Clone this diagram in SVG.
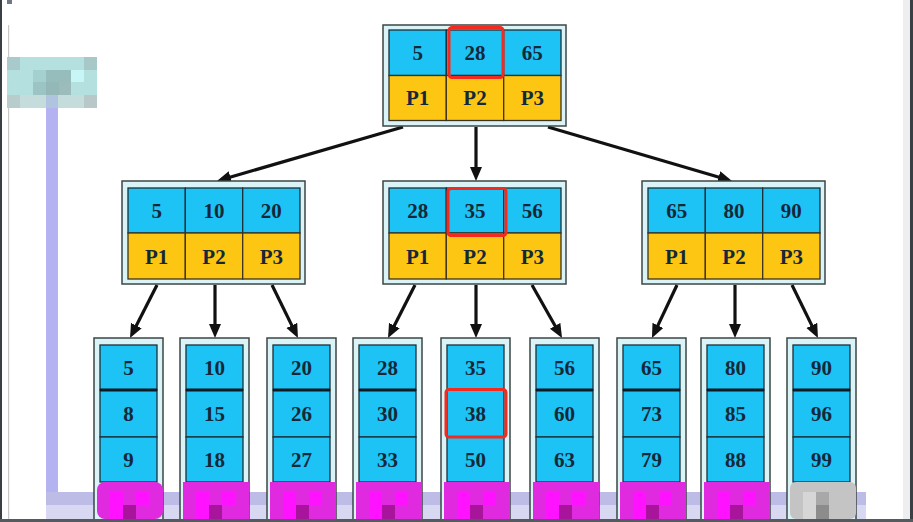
<svg xmlns="http://www.w3.org/2000/svg" width="913" height="522" viewBox="0 0 913 522">
<style>
.outer{fill:#d9f3f7;stroke:#3c4646;stroke-width:1.5}
.k{fill:#1cc3f4;stroke:#1e3038;stroke-width:1.3}
.p{fill:#fcc613;stroke:#3e3220;stroke-width:1.3}
.t{font-family:"Liberation Serif","Times New Roman",serif;font-weight:bold;font-size:21px;fill:#15283a;text-anchor:middle}
.hl{fill:none;stroke:#f52a1e;stroke-width:3}
.edge{stroke:#111;stroke-width:3.2;fill:none;marker-end:url(#ah)}
.sep{stroke:#0d1a22;stroke-width:3}
.mg{fill:#e02ae0}
.mgl{fill:#ff12ff}
.mgd{fill:#a8149c}
</style>
<defs>
<marker id="ah" markerUnits="userSpaceOnUse" markerWidth="15" markerHeight="13" refX="5" refY="6" orient="auto">
<path d="M0,0 L14,6 L0,12 z" fill="#111"/>
</marker>
</defs>
<rect x="0" y="0" width="913" height="522" fill="#ffffff"/>
<g id="frame">
<rect x="0" y="0" width="2" height="522" fill="#3a3f44"/>
<rect x="7" y="0" width="5" height="4" fill="#707888"/>
<rect x="8" y="25" width="1.2" height="494" fill="#c8c8c8"/>
<rect x="903" y="0" width="7" height="522" fill="#eeeef1"/>
<rect x="910" y="0" width="3" height="522" fill="#3a3f44"/>
</g>
<g id="mosaic-top">
<rect x="7" y="57" width="90" height="51" fill="#b4e0e0"/>
<rect x="7" y="57" width="13" height="13" fill="#a8caca"/>
<rect x="84" y="57" width="13" height="13" fill="#a8c8c8"/>
<rect x="33" y="70" width="13" height="12" fill="#a4d0d0"/>
<rect x="46" y="70" width="25" height="12" fill="#96bcbc"/>
<rect x="71" y="70" width="13" height="12" fill="#c8f6f6"/>
<rect x="33" y="82" width="13" height="13" fill="#9cc4c4"/>
<rect x="46" y="82" width="13" height="13" fill="#94b8b8"/>
<rect x="59" y="82" width="12" height="13" fill="#9cbcbc"/>
<rect x="7" y="95" width="90" height="13" fill="#c4dcdc"/>
<rect x="7" y="95" width="13" height="13" fill="#b8cccc"/>
<rect x="84" y="95" width="13" height="13" fill="#b8c8c8"/>
<rect x="46" y="95" width="12" height="13" fill="#b0c4e0"/>
</g>
<g id="mosaic-line">
<rect x="46" y="108" width="12" height="387" fill="#b4b2f0"/>
<rect x="46" y="492" width="820" height="13" fill="#bcbce6"/>
<rect x="46" y="505" width="820" height="14" fill="#d8d8f2"/>
</g>
<g id="connectors">
<line class="edge" x1="403" y1="127" x2="225.6" y2="178.5"/>
<line class="edge" x1="476" y1="127" x2="476" y2="172"/>
<line class="edge" x1="548" y1="127" x2="723.4" y2="178.5"/>
<line class="edge" x1="157" y1="285" x2="134.1" y2="330"/>
<line class="edge" x1="215" y1="285" x2="215" y2="329"/>
<line class="edge" x1="272" y1="285" x2="294" y2="329.9"/>
<line class="edge" x1="415" y1="285" x2="392.1" y2="330"/>
<line class="edge" x1="476" y1="285" x2="476" y2="329"/>
<line class="edge" x1="532" y1="285" x2="557.6" y2="330.2"/>
<line class="edge" x1="677" y1="285" x2="655.8" y2="329.9"/>
<line class="edge" x1="735" y1="285" x2="735" y2="329"/>
<line class="edge" x1="792" y1="285" x2="814" y2="329.9"/>
</g>
<g id="root">
<rect class="outer" x="383" y="25" width="183" height="101"/>
<rect class="k" x="389" y="30" width="57.3" height="45.5"/>
<rect class="k" x="446.3" y="30" width="57.4" height="45.5"/>
<rect class="k" x="503.7" y="30" width="57.3" height="45.5"/>
<rect class="p" x="389" y="75.5" width="57.3" height="45"/>
<rect class="p" x="446.3" y="75.5" width="57.4" height="45"/>
<rect class="p" x="503.7" y="75.5" width="57.3" height="45"/>
<text class="t" x="417.7" y="60">5</text>
<text class="t" x="475" y="60">28</text>
<text class="t" x="532.3" y="60">65</text>
<text class="t" x="417.7" y="105">P1</text>
<text class="t" x="475" y="105">P2</text>
<text class="t" x="532.3" y="105">P3</text>
<rect class="hl" x="449" y="27.5" width="54" height="50" rx="3"/>
</g>
<g id="mid-left">
<rect class="outer" x="122" y="181" width="183" height="103"/>
<rect class="k" x="128" y="188" width="57.3" height="45"/>
<rect class="k" x="185.3" y="188" width="57.4" height="45"/>
<rect class="k" x="242.7" y="188" width="57.3" height="45"/>
<rect class="p" x="128" y="233" width="57.3" height="46"/>
<rect class="p" x="185.3" y="233" width="57.4" height="46"/>
<rect class="p" x="242.7" y="233" width="57.3" height="46"/>
<text class="t" x="156.7" y="218">5</text>
<text class="t" x="214" y="218">10</text>
<text class="t" x="271.3" y="218">20</text>
<text class="t" x="156.7" y="263.5">P1</text>
<text class="t" x="214" y="263.5">P2</text>
<text class="t" x="271.3" y="263.5">P3</text>
</g>
<g id="mid-center">
<rect class="outer" x="383" y="181" width="183" height="103"/>
<rect class="k" x="389" y="188" width="57.3" height="45"/>
<rect class="k" x="446.3" y="188" width="57.4" height="45"/>
<rect class="k" x="503.7" y="188" width="57.3" height="45"/>
<rect class="p" x="389" y="233" width="57.3" height="46"/>
<rect class="p" x="446.3" y="233" width="57.4" height="46"/>
<rect class="p" x="503.7" y="233" width="57.3" height="46"/>
<text class="t" x="417.7" y="218">28</text>
<text class="t" x="475" y="218">35</text>
<text class="t" x="532.3" y="218">56</text>
<text class="t" x="417.7" y="263.5">P1</text>
<text class="t" x="475" y="263.5">P2</text>
<text class="t" x="532.3" y="263.5">P3</text>
<rect class="hl" x="448" y="188.5" width="58" height="47" rx="3"/>
</g>
<g id="mid-right">
<rect class="outer" x="642" y="181" width="183" height="103"/>
<rect class="k" x="648" y="188" width="57.3" height="45"/>
<rect class="k" x="705.3" y="188" width="57.4" height="45"/>
<rect class="k" x="762.7" y="188" width="57.3" height="45"/>
<rect class="p" x="648" y="233" width="57.3" height="46"/>
<rect class="p" x="705.3" y="233" width="57.4" height="46"/>
<rect class="p" x="762.7" y="233" width="57.3" height="46"/>
<text class="t" x="676.7" y="218">65</text>
<text class="t" x="734" y="218">80</text>
<text class="t" x="791.3" y="218">90</text>
<text class="t" x="676.7" y="263.5">P1</text>
<text class="t" x="734" y="263.5">P2</text>
<text class="t" x="791.3" y="263.5">P3</text>
</g>
<g id="leaf-1">
<rect class="outer" x="94" y="338" width="69" height="190"/>
<rect class="k" x="100" y="345" width="57" height="45"/><rect class="k" x="100" y="390" width="57" height="47"/><rect class="k" x="100" y="437" width="57" height="45"/>
<line class="sep" x1="100" y1="390" x2="157" y2="390"/>
<text class="t" x="128.5" y="375">5</text><text class="t" x="128.5" y="421">8</text><text class="t" x="128.5" y="467">9</text>
</g>
<g id="leaf-2">
<rect class="outer" x="180" y="338" width="69" height="190"/>
<rect class="k" x="186" y="345" width="57" height="45"/><rect class="k" x="186" y="390" width="57" height="47"/><rect class="k" x="186" y="437" width="57" height="45"/>
<line class="sep" x1="186" y1="390" x2="243" y2="390"/>
<text class="t" x="214.5" y="375">10</text><text class="t" x="214.5" y="421">15</text><text class="t" x="214.5" y="467">18</text>
</g>
<g id="leaf-3">
<rect class="outer" x="267" y="338" width="69" height="190"/>
<rect class="k" x="273" y="345" width="57" height="45"/><rect class="k" x="273" y="390" width="57" height="47"/><rect class="k" x="273" y="437" width="57" height="45"/>
<line class="sep" x1="273" y1="390" x2="330" y2="390"/>
<text class="t" x="301.5" y="375">20</text><text class="t" x="301.5" y="421">26</text><text class="t" x="301.5" y="467">27</text>
</g>
<g id="leaf-4">
<rect class="outer" x="353" y="338" width="69" height="190"/>
<rect class="k" x="359" y="345" width="57" height="45"/><rect class="k" x="359" y="390" width="57" height="47"/><rect class="k" x="359" y="437" width="57" height="45"/>
<line class="sep" x1="359" y1="390" x2="416" y2="390"/>
<text class="t" x="387.5" y="375">28</text><text class="t" x="387.5" y="421">30</text><text class="t" x="387.5" y="467">33</text>
</g>
<g id="leaf-5">
<rect class="outer" x="441" y="338" width="69" height="190"/>
<rect class="k" x="447" y="345" width="57" height="45"/><rect class="k" x="447" y="390" width="57" height="47"/><rect class="k" x="447" y="437" width="57" height="45"/>
<text class="t" x="475.5" y="375">35</text><text class="t" x="475.5" y="421">38</text><text class="t" x="475.5" y="467">50</text>
<rect class="hl" x="446" y="389.5" width="60" height="47.5" rx="3"/>
</g>
<g id="leaf-6">
<rect class="outer" x="530" y="338" width="69" height="190"/>
<rect class="k" x="536" y="345" width="57" height="45"/><rect class="k" x="536" y="390" width="57" height="47"/><rect class="k" x="536" y="437" width="57" height="45"/>
<line class="sep" x1="536" y1="390" x2="593" y2="390"/>
<text class="t" x="564.5" y="375">56</text><text class="t" x="564.5" y="421">60</text><text class="t" x="564.5" y="467">63</text>
</g>
<g id="leaf-7">
<rect class="outer" x="617" y="338" width="69" height="190"/>
<rect class="k" x="623" y="345" width="57" height="45"/><rect class="k" x="623" y="390" width="57" height="47"/><rect class="k" x="623" y="437" width="57" height="45"/>
<line class="sep" x1="623" y1="390" x2="680" y2="390"/>
<text class="t" x="651.5" y="375">65</text><text class="t" x="651.5" y="421">73</text><text class="t" x="651.5" y="467">79</text>
</g>
<g id="leaf-8">
<rect class="outer" x="701" y="338" width="69" height="190"/>
<rect class="k" x="707" y="345" width="57" height="45"/><rect class="k" x="707" y="390" width="57" height="47"/><rect class="k" x="707" y="437" width="57" height="45"/>
<line class="sep" x1="707" y1="390" x2="764" y2="390"/>
<text class="t" x="735.5" y="375">80</text><text class="t" x="735.5" y="421">85</text><text class="t" x="735.5" y="467">88</text>
</g>
<g id="leaf-9">
<rect class="outer" x="787" y="338" width="69" height="190"/>
<rect class="k" x="793" y="345" width="57" height="45"/><rect class="k" x="793" y="390" width="57" height="47"/><rect class="k" x="793" y="437" width="57" height="45"/>
<line class="sep" x1="793" y1="390" x2="850" y2="390"/>
<text class="t" x="821.5" y="375">90</text><text class="t" x="821.5" y="421">96</text><text class="t" x="821.5" y="467">99</text>
</g>
<g id="mosaic-bottom">
<rect class="mg" x="97" y="482" width="66" height="37" rx="8"/>
<rect class="mgl" x="110" y="492" width="13" height="27"/><rect class="mgd" x="123" y="505" width="13" height="14"/><rect class="mgl" x="136" y="492" width="13" height="13"/>
<rect class="mg" x="183" y="482" width="66" height="37"/>
<rect class="mgl" x="196" y="492" width="13" height="27"/><rect class="mgd" x="209" y="505" width="13" height="14"/><rect class="mgl" x="222" y="492" width="13" height="13"/>
<rect class="mg" x="270" y="482" width="66" height="37"/>
<rect class="mgl" x="283" y="492" width="13" height="27"/><rect class="mgd" x="296" y="505" width="13" height="14"/><rect class="mgl" x="309" y="492" width="13" height="13"/>
<rect class="mg" x="356" y="482" width="66" height="37"/>
<rect class="mgl" x="369" y="492" width="13" height="27"/><rect class="mgd" x="382" y="505" width="13" height="14"/><rect class="mgl" x="395" y="492" width="13" height="13"/>
<rect class="mg" x="444" y="482" width="66" height="37"/>
<rect class="mgl" x="457" y="492" width="13" height="27"/><rect class="mgd" x="470" y="505" width="13" height="14"/><rect class="mgl" x="483" y="492" width="13" height="13"/>
<rect class="mg" x="533" y="482" width="66" height="37"/>
<rect class="mgl" x="546" y="492" width="13" height="27"/><rect class="mgd" x="559" y="505" width="13" height="14"/><rect class="mgl" x="572" y="492" width="13" height="13"/>
<rect class="mg" x="620" y="482" width="66" height="37"/>
<rect class="mgl" x="633" y="492" width="13" height="27"/><rect class="mgd" x="646" y="505" width="13" height="14"/><rect class="mgl" x="659" y="492" width="13" height="13"/>
<rect class="mg" x="704" y="482" width="66" height="37"/>
<rect class="mgl" x="717" y="492" width="13" height="27"/><rect class="mgd" x="730" y="505" width="13" height="14"/><rect class="mgl" x="743" y="492" width="13" height="13"/>
<rect x="790" y="482" width="66" height="37" rx="6" fill="#c4c4c4"/>
<rect x="803" y="492" width="13" height="27" fill="#d6d6d6"/><rect x="816" y="505" width="13" height="14" fill="#8c8c8c"/><rect x="816" y="492" width="13" height="13" fill="#a8a8a8"/>
</g>
<rect x="0" y="519" width="913" height="3" fill="#555a5e"/>
</svg>
